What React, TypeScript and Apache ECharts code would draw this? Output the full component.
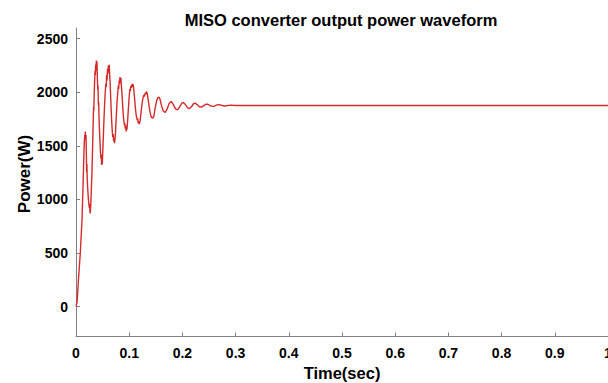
import React, { useEffect, useRef } from "react";
import * as echarts from "echarts";

const chartTitle = "MISO converter output power waveform";
const xName = "Time(sec)";
const yName = "Power(W)";

const yTickValues = [0, 500, 1000, 1500, 2000, 2500];

const timeSec = [
  0, 0.002, 0.005, 0.0081, 0.0113, 0.0132, 0.015, 0.0157, 0.0165, 0.017, 0.0175, 0.0182, 0.0188, 0.0195, 0.02,
  0.0205, 0.021, 0.022, 0.0235, 0.025, 0.0258, 0.0264, 0.027, 0.0276, 0.0285, 0.03, 0.0315, 0.033, 0.0335,
  0.0342, 0.035, 0.0358, 0.0364, 0.037, 0.0376, 0.0382, 0.0388, 0.0394, 0.04, 0.0408, 0.0414, 0.042, 0.0426,
  0.0432, 0.0445, 0.046, 0.047, 0.0476, 0.0482, 0.0488, 0.0494, 0.05, 0.0515, 0.053, 0.0545, 0.056, 0.0568,
  0.0576, 0.0584, 0.0592, 0.06, 0.0608, 0.0616, 0.0625, 0.0632, 0.064, 0.065, 0.066, 0.0672, 0.0684, 0.0692,
  0.07, 0.0708, 0.0716, 0.0725, 0.0732, 0.074, 0.0755, 0.077, 0.0785, 0.0795, 0.0803, 0.0811, 0.0819, 0.0827,
  0.0835, 0.0845, 0.0853, 0.0865, 0.088, 0.0895, 0.091, 0.0918, 0.0926, 0.0934, 0.0942, 0.095, 0.0957, 0.097,
  0.0985, 0.1, 0.1012, 0.102, 0.103, 0.104, 0.1055, 0.1065, 0.1075, 0.1085, 0.11, 0.1115, 0.113, 0.115, 0.116,
  0.117, 0.118, 0.119, 0.1205, 0.122, 0.124, 0.126, 0.1275, 0.1285, 0.13, 0.131, 0.1325, 0.134, 0.136, 0.138,
  0.14, 0.142, 0.1445, 0.1465, 0.149, 0.1515, 0.154, 0.156, 0.158, 0.161, 0.164, 0.1677, 0.171, 0.175, 0.179,
  0.183, 0.187, 0.191, 0.195, 0.199, 0.202, 0.206, 0.21, 0.213, 0.217, 0.221, 0.224, 0.228, 0.232, 0.236, 0.24,
  0.244, 0.248, 0.252, 0.256, 0.26, 0.265, 0.27, 0.275, 0.28, 0.29, 0.3, 0.33, 1.0,
];

const powerW = [
  0, 40, 280, 500, 808, 1120, 1450, 1540, 1600, 1560, 1634, 1560, 1600, 1420, 1250,
  1330, 1200, 1100, 990, 920, 960, 870, 886, 930, 1050, 1248, 1550, 1867, 1830,
  1980, 2100, 2200, 2160, 2260, 2200, 2297, 2210, 2288, 2170, 2023, 2060, 1880, 1910,
  1780, 1600, 1440, 1380, 1420, 1322, 1370, 1330, 1410, 1600, 1800, 1960, 2080, 2050,
  2160, 2110, 2220, 2170, 2250, 2190, 2257, 2170, 2100, 1980, 1850, 1720, 1620, 1580,
  1610, 1540, 1575, 1525, 1560, 1600, 1750, 1900, 2000, 2060, 2030, 2110, 2080, 2142,
  2090, 2133, 2060, 1980, 1850, 1750, 1690, 1710, 1660, 1690, 1634, 1665, 1650, 1730,
  1850, 1960, 2030, 2010, 2060, 2040, 2079, 2050, 2075, 2030, 1950, 1860, 1790, 1740, 1755,
  1710, 1730, 1703, 1735, 1800, 1890, 1950, 1975, 1960, 1995, 1980, 2007, 1985, 1920, 1850,
  1795, 1765, 1759, 1780, 1860, 1920, 1950, 1955, 1935, 1870, 1825, 1811, 1840, 1895, 1914,
  1885, 1845, 1836, 1865, 1898, 1905, 1882, 1855, 1846, 1865, 1893, 1899, 1884, 1865, 1862, 1875,
  1888, 1888, 1876, 1868, 1870, 1882, 1884, 1876, 1872, 1880, 1877, 1877, 1877,
];

const FONT = "'Liberation Sans', Arial, Helvetica, sans-serif";

export default function App() {
  const ref = useRef<HTMLDivElement>(null);

  useEffect(() => {
    if (!ref.current) return;
    const chart = echarts.init(ref.current, undefined, { renderer: "svg" });
    const seriesData = timeSec.map((t, i) => [t, powerW[i]]);
    chart.setOption({
      animation: false,
      backgroundColor: "#ffffff",
      graphic: [
        {
          type: "text",
          x: 341,
          y: 20,
          style: {
            text: chartTitle,
            textAlign: "center",
            textVerticalAlign: "middle",
            font: `bold 16.5px ${FONT}`,
            fill: "#000000",
          },
        },
        {
          type: "text",
          x: 24,
          y: 174,
          rotation: Math.PI / 2,
          style: {
            text: yName,
            textAlign: "center",
            textVerticalAlign: "middle",
            font: `bold 17px ${FONT}`,
            fill: "#000000",
          },
        },
      ],
      grid: {
        left: 76,
        right: 0,
        top: 28,
        bottom: 46.5,
        containLabel: false,
        outerBoundsMode: "none",
      },
      xAxis: {
        type: "value",
        min: 0,
        max: 1,
        interval: 0.1,
        name: xName,
        nameLocation: "middle",
        nameGap: 27,
        nameTextStyle: { fontFamily: FONT, fontWeight: "bold", fontSize: 16.5, color: "#000" },
        axisLine: { onZero: false, lineStyle: { color: "#808080", width: 1 } },
        axisTick: { inside: true, length: 4, lineStyle: { color: "#808080" } },
        axisLabel: {
          margin: 9,
          fontFamily: FONT,
          fontWeight: "bold",
          fontSize: 14,
          color: "#000",
          showMaxLabel: true,
          showMinLabel: true,
          hideOverlap: false,
          formatter: (v: number) => (v === 0 ? "0" : Math.abs(v - 1) < 1e-9 ? "1" : v.toFixed(1)),
        },
        splitLine: { show: false },
      },
      yAxis: {
        type: "value",
        min: -280,
        max: 2600,
        axisLine: { show: true, lineStyle: { color: "#808080", width: 1 } },
        axisTick: { inside: true, length: 4, customValues: yTickValues, lineStyle: { color: "#808080" } },
        axisLabel: {
          margin: 8,
          fontFamily: FONT,
          fontWeight: "bold",
          fontSize: 14,
          color: "#000",
          customValues: yTickValues,
          formatter: (v: number) => String(Math.round(v)),
        },
        splitLine: { show: false },
      },
      series: [
        {
          type: "line",
          data: seriesData,
          showSymbol: false,
          symbol: "none",
          lineStyle: { color: "#d42a2a", width: 1.4 },
          clip: true,
        },
      ],
    });
    return () => chart.dispose();
  }, []);

  return (
    <div
      ref={ref}
      style={{ position: "fixed", left: 0, top: 0, width: 608, height: 383 }}
    />
  );
}
